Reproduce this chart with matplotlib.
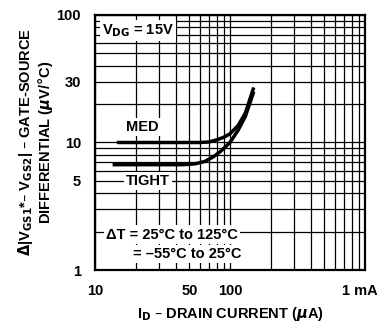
import matplotlib.pyplot as plt
import matplotlib.transforms as mtransforms
from matplotlib.ticker import FixedLocator, LogLocator, NullFormatter

plt.rcParams['font.family'] = ['Liberation Sans Narrow', 'Liberation Sans', 'DejaVu Sans']
plt.rcParams['font.weight'] = 'bold'

# curves
med_x = [14.5, 20, 30, 45, 60, 70, 80, 90, 100, 115, 130, 150]
med_y = [10.0, 10.0, 10.0, 10.0, 10.0, 10.1, 10.5, 11.0, 11.7, 13.6, 17.0, 27.0]
tight_x = [13.5, 20, 30, 45, 55, 65, 75, 85, 100, 115, 130, 150]
tight_y = [6.7, 6.7, 6.7, 6.7, 6.8, 7.1, 7.7, 8.5, 10.0, 12.5, 16.0, 25.0]

x_ticks = [10, 50, 100, 1000]
x_labels = ['10', '50', '100', '1 mA']
y_ticks = [1, 5, 10, 30, 100]
y_labels = ['1', '5', '10', '30', '100']

fig = plt.figure(figsize=(3.77, 3.31), dpi=100)
ax = fig.add_axes([0.252, 0.184, 0.716, 0.771])
ax.set_xscale('log')
ax.set_yscale('log')
ax.set_xlim(10, 1000)
ax.set_ylim(1, 100)

# full log grid, like graph paper
ax.xaxis.set_minor_locator(LogLocator(base=10, subs=range(2, 10)))
ax.yaxis.set_minor_locator(LogLocator(base=10, subs=range(2, 10)))
ax.xaxis.set_minor_formatter(NullFormatter())
ax.yaxis.set_minor_formatter(NullFormatter())
ax.grid(which='both', color='black', linewidth=0.9)
ax.set_axisbelow(True)

ax.xaxis.set_major_locator(FixedLocator(x_ticks))
ax.set_xticklabels(x_labels)
ax.yaxis.set_major_locator(FixedLocator(y_ticks))
ax.set_yticklabels(y_labels)
ax.tick_params(which='both', length=0, labelsize=10.5, pad=10)
for lab in ax.get_xticklabels() + ax.get_yticklabels():
    lab.set_fontweight('bold')
# keep "1 mA" on the canvas, right at the edge
last = ax.get_xticklabels()[-1]
last.set_transform(last.get_transform() +
                   mtransforms.ScaledTranslation(-4 / 72, 0, fig.dpi_scale_trans))
for s in ax.spines.values():
    s.set_linewidth(1.6)

ax.plot(med_x, med_y, color='black', linewidth=2.5, solid_capstyle='butt')
ax.plot(tight_x, tight_y, color='black', linewidth=2.5, solid_capstyle='butt')

box = dict(facecolor='white', edgecolor='none', pad=1.5)
ax.text(11.2, 75, r'V$_{\mathbf{DG}}$ = 15V', fontsize=10.5, fontweight='bold',
        va='center', ha='left', bbox=box)
ax.text(17.0, 13.3, 'MED', fontsize=10.5, fontweight='bold', va='center', ha='left', bbox=box)
ax.text(17.0, 5.0, 'TIGHT', fontsize=10.5, fontweight='bold', va='center', ha='left', bbox=box)
ax.text(12.0, 1.9, '\u0394T = 25\u00b0C to 125\u00b0C', fontsize=10.5, fontweight='bold',
        va='center', ha='left', bbox=box)
ax.text(19.0, 1.33, '= \u201355\u00b0C to 25\u00b0C', fontsize=10.5, fontweight='bold',
        va='center', ha='left', bbox=box)

ax.set_xlabel('I$_{\\mathbf{D}}$ \u2013 DRAIN CURRENT ($\\mu$A)',
              fontsize=10.5, fontweight='bold', labelpad=5)
fig.text(0.068, 0.57, '$\\Delta$|V$_{\\mathbf{GS1}}$*\u2013 V$_{\\mathbf{GS2}}$| \u2013 GATE-SOURCE',
         rotation=90, fontsize=10.5, fontweight='bold', ha='center', va='center')
fig.text(0.122, 0.57, 'DIFFERENTIAL ($\\mu$V/$\\degree$C)', rotation=90, fontsize=10.5,
         fontweight='bold', ha='center', va='center')

fig.savefig('out.png', dpi=100)
